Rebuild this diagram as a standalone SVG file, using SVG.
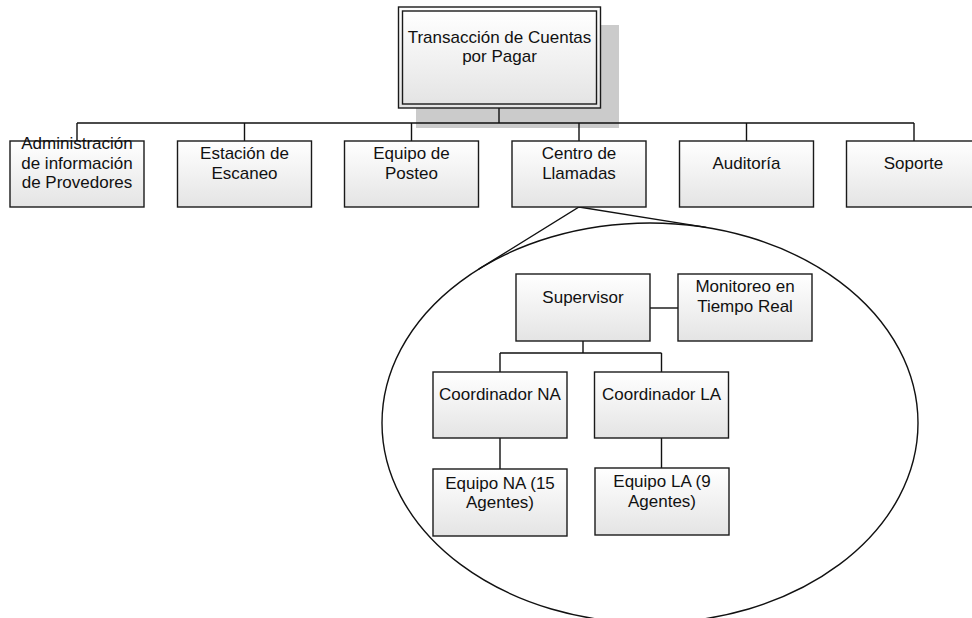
<svg xmlns="http://www.w3.org/2000/svg" width="972" height="618" viewBox="0 0 972 618">
  <style>
    .box { fill: url(#boxFill); stroke: #1a1a1a; stroke-width: 1.4; }
    .lbl { font-family: "Liberation Sans", Arial, sans-serif; font-size: 17px; fill: #111; text-anchor: middle; }
    .wire { fill: none; stroke: #111; stroke-width: 1.4; }
    .shadow { fill: #cbcbcb; }
  </style>
  <defs>
    <linearGradient id="boxFill" x1="0" y1="0" x2="0" y2="1">
      <stop offset="0" stop-color="#ffffff"/>
      <stop offset="1" stop-color="#e4e4e4"/>
    </linearGradient>
  </defs>
  <rect width="972" height="618" fill="#ffffff"/>

  <!-- callout ellipse and its tangent lines -->
  <g id="callout">
    <ellipse class="wire" cx="650" cy="423" rx="268" ry="200"/>
    <polyline class="wire" points="478.7,269.2 579,207 706.2,227.4"/>
  </g>

  <!-- root shadow -->
  <rect class="shadow" x="416" y="25" width="203" height="103"/>

  <!-- connectors -->
  <g id="connectors">
    <path class="wire" d="M499 108 V123 M77 123 H914 M77 123 V141 M244.5 123 V141 M411.5 123 V141 M579 123 V141 M746.5 123 V141 M914 123 V141"/>
    <path class="wire" d="M650 308 H678"/>
    <path class="wire" d="M583 341 V353 M500 353 H661.5 M500 353 V372 M661.5 353 V372"/>
    <path class="wire" d="M500 438 V469 M661.5 438 V468"/>
  </g>

  <g id="root">
    <rect class="box" x="398.5" y="7" width="202" height="101"/>
    <rect class="box" x="402.5" y="11" width="194" height="93"/>
    <text class="lbl" x="499.5" y="43">Transacción de Cuentas</text>
    <text class="lbl" x="499.5" y="62">por Pagar</text>
  </g>

  <g id="admin">
    <rect class="box" x="10" y="141" width="134" height="66"/>
    <text class="lbl" x="77" y="149">Administración</text>
    <text class="lbl" x="77" y="168.5">de información</text>
    <text class="lbl" x="77" y="188">de Provedores</text>
  </g>

  <g id="escaneo">
    <rect class="box" x="177.5" y="141" width="134" height="66"/>
    <text class="lbl" x="244.5" y="159">Estación de</text>
    <text class="lbl" x="244.5" y="178.5">Escaneo</text>
  </g>

  <g id="posteo">
    <rect class="box" x="344.5" y="141" width="134" height="66"/>
    <text class="lbl" x="411.5" y="159">Equipo de</text>
    <text class="lbl" x="411.5" y="178.5">Posteo</text>
  </g>

  <g id="llamadas">
    <rect class="box" x="512" y="141" width="134" height="66"/>
    <text class="lbl" x="579" y="159">Centro de</text>
    <text class="lbl" x="579" y="178.5">Llamadas</text>
  </g>

  <g id="auditoria">
    <rect class="box" x="679.5" y="141" width="134" height="66"/>
    <text class="lbl" x="746.5" y="169">Auditoría</text>
  </g>

  <g id="soporte">
    <rect class="box" x="846.5" y="141" width="134" height="66"/>
    <text class="lbl" x="913.5" y="169">Soporte</text>
  </g>

  <g id="supervisor">
    <rect class="box" x="516" y="274" width="134" height="67"/>
    <text class="lbl" x="583" y="303">Supervisor</text>
  </g>

  <g id="monitoreo">
    <rect class="box" x="678" y="274" width="134" height="67"/>
    <text class="lbl" x="745" y="292">Monitoreo en</text>
    <text class="lbl" x="745" y="312">Tiempo Real</text>
  </g>

  <g id="coord-na">
    <rect class="box" x="433" y="372" width="134" height="66"/>
    <text class="lbl" x="500" y="400">Coordinador NA</text>
  </g>

  <g id="coord-la">
    <rect class="box" x="594.5" y="372" width="134" height="66"/>
    <text class="lbl" x="661.5" y="400">Coordinador LA</text>
  </g>

  <g id="equipo-na">
    <rect class="box" x="433" y="469" width="134" height="67"/>
    <text class="lbl" x="500" y="488.5">Equipo NA (15</text>
    <text class="lbl" x="500" y="508">Agentes)</text>
  </g>

  <g id="equipo-la">
    <rect class="box" x="595" y="468" width="134" height="67"/>
    <text class="lbl" x="662" y="487">Equipo LA (9</text>
    <text class="lbl" x="662" y="506.5">Agentes)</text>
  </g>
</svg>
